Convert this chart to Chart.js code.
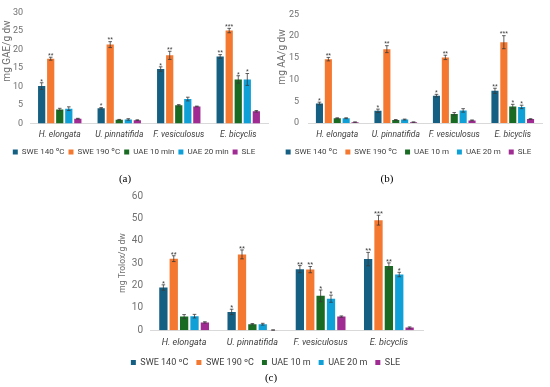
<!DOCTYPE html>
<html>
<head>
<meta charset="utf-8">
<script src="https://cdn.jsdelivr.net/npm/chart.js@4.4.1/dist/chart.umd.min.js"></script>
<style>
  html, body { margin: 0; padding: 0; background: #ffffff; }
  body { width: 550px; height: 387px; position: relative; overflow: hidden; }
  .box { position: absolute; }
  .lab { position: absolute; font-family: "Liberation Serif", serif; font-size: 11px; color: #000; transform: translateX(-50%); }
</style>
</head>
<body>
<div class="box" style="left:0px;top:0px;width:275px;height:166px;"><canvas id="ca"></canvas></div>
<div class="box" style="left:275px;top:0px;width:275px;height:166px;"><canvas id="cb"></canvas></div>
<div class="box" style="left:108px;top:183px;width:322px;height:194px;"><canvas id="cc"></canvas></div>
<div class="lab" style="left:125px;top:172px;">(a)</div>
<div class="lab" style="left:387px;top:172px;">(b)</div>
<div class="lab" style="left:271px;top:371px;">(c)</div>
<script>
// ---- categories and series names ----
const categories = ["H. elongata", "U. pinnatifida", "F. vesiculosus", "E. bicyclis"];
const seriesNamesA = ["SWE 140 ºC", "SWE 190 ºC", "UAE 10 min", "UAE 20 min", "SLE"];
const seriesNamesBC = ["SWE 140 ºC", "SWE 190 ºC", "UAE 10 m", "UAE 20 m", "SLE"];
const seriesColors = ["#156082", "#F4782F", "#196B24", "#0FA0D8", "#A02B93"];

// ---- (a) mg GAE/g dw ----
const tpcTicks = [0, 5, 10, 15, 20, 25, 30];
const tpcSWE140 = [10.1, 4.1, 14.7, 18.1];
const tpcSWE190 = [17.5, 21.3, 18.4, 25.1];
const tpcUAE10 = [3.8, 1.0, 4.9, 11.9];
const tpcUAE20 = [4.0, 1.1, 6.6, 11.9];
const tpcSLE = [1.3, 0.9, 4.6, 3.3];
const tpcSWE140Err = [0.9, 0.2, 0.6, 0.5];
const tpcSWE190Err = [0.4, 0.8, 1.1, 0.6];
const tpcUAE10Err = [0.3, 0.1, 0.2, 1.0];
const tpcUAE20Err = [0.5, 0.2, 0.5, 1.6];
const tpcSLEErr = [0.1, 0.1, 0.1, 0.2];
const tpcSWE140Sig = ["*", "*", "*", "**"];
const tpcSWE190Sig = ["**", "**", "**", "***"];
const tpcUAE10Sig = ["", "", "", "*"];
const tpcUAE20Sig = ["", "", "", "*"];
const tpcSLESig = ["", "", "", ""];

// ---- (b) mg AA/g dw ----
const aaTicks = [0, 5, 10, 15, 20, 25];
const aaSWE140 = [4.5, 2.8, 6.3, 7.4];
const aaSWE190 = [14.7, 17.0, 15.1, 18.6];
const aaUAE10 = [1.1, 0.7, 2.1, 3.8];
const aaUAE20 = [1.1, 0.8, 2.9, 3.7];
const aaSLE = [0.2, 0.2, 0.6, 0.9];
const aaSWE140Err = [0.3, 0.4, 0.3, 0.6];
const aaSWE190Err = [0.4, 0.8, 0.5, 1.5];
const aaUAE10Err = [0.1, 0.1, 0.3, 0.5];
const aaUAE20Err = [0.1, 0.1, 0.4, 0.4];
const aaSLEErr = [0.05, 0.05, 0.1, 0.1];
const aaSWE140Sig = ["*", "*", "*", "**"];
const aaSWE190Sig = ["**", "**", "**", "***"];
const aaUAE10Sig = ["", "", "", "*"];
const aaUAE20Sig = ["", "", "", "*"];
const aaSLESig = ["", "", "", ""];

// ---- (c) mg Trolox/g dw ----
const trTicks = [0, 10, 20, 30, 40, 50, 60];
const trSWE140 = [19.1, 8.2, 27.3, 31.8];
const trSWE190 = [32.0, 33.9, 27.1, 49.2];
const trUAE10 = [6.1, 2.7, 15.4, 28.7];
const trUAE20 = [6.3, 2.7, 14.1, 24.9];
const trSLE = [3.5, 0.1, 6.1, 1.2];
const trSWE140Err = [1.2, 1.2, 1.6, 3.0];
const trSWE190Err = [1.3, 2.0, 1.4, 2.2];
const trUAE10Err = [0.9, 0.3, 2.6, 1.4];
const trUAE20Err = [0.8, 0.4, 1.6, 1.0];
const trSLEErr = [0.3, 0.05, 0.3, 0.3];
const trSWE140Sig = ["*", "*", "**", "**"];
const trSWE190Sig = ["**", "**", "**", "***"];
const trUAE10Sig = ["", "", "*", "**"];
const trUAE20Sig = ["", "", "*", "*"];
const trSLESig = ["", "", "", ""];

const FONT = "Roboto, 'Liberation Sans', sans-serif";

const errorBarPlugin = {
  id: "errorBars",
  afterDatasetsDraw(chart) {
    const ctx = chart.ctx;
    const ys = chart.scales.y;
    const o = chart.options.plugins.errorBars;
    const starSize = o.starSize;
    chart.data.datasets.forEach((ds, i) => {
      const meta = chart.getDatasetMeta(i);
      meta.data.forEach((bar, j) => {
        const v = ds.data[j], e = ds.errors[j];
        const x = bar.x;
        const yT = ys.getPixelForValue(v + e);
        const yB = ys.getPixelForValue(Math.max(0, v - e));
        ctx.save();
        ctx.strokeStyle = "#3a3a3a";
        ctx.lineWidth = 0.8;
        ctx.beginPath();
        ctx.moveTo(x, yT); ctx.lineTo(x, yB);
        ctx.moveTo(x - 1.8, yT); ctx.lineTo(x + 1.8, yT);
        ctx.moveTo(x - 1.8, yB); ctx.lineTo(x + 1.8, yB);
        ctx.stroke();
        const s = ds.sig[j];
        if (s) {
          ctx.fillStyle = "#404040";
          ctx.font = starSize + "px 'Liberation Sans', sans-serif";
          ctx.textAlign = "center";
          ctx.textBaseline = "alphabetic";
          ctx.fillText(s, x, yT + starSize * 0.4 - 2);
        }
        ctx.restore();
      });
    });
  },
  afterDraw(chart) {
    const o = chart.options.plugins.errorBars;
    const ctx = chart.ctx;
    ctx.save();
    ctx.translate(o.titleX, o.titleY);
    ctx.rotate(-Math.PI / 2);
    ctx.fillStyle = "#6e6e6e";
    ctx.font = o.titleFont + "px " + FONT;
    ctx.textAlign = "center";
    ctx.textBaseline = "middle";
    ctx.fillText(o.title, 0, 0);
    ctx.restore();
  }
};

function makeDatasets(names, vals, errs, sigs) {
  return names.map((n, i) => ({
    label: n,
    data: vals[i],
    errors: errs[i],
    sig: sigs[i],
    backgroundColor: seriesColors[i],
    borderWidth: 0,
    categoryPercentage: 0.76,
    barPercentage: 0.8
  }));
}

function makeChart(id, cfg) {
  const tickVals = cfg.ticks;
  return new Chart(document.getElementById(id), {
    type: "bar",
    data: {
      labels: categories,
      datasets: makeDatasets(cfg.names, cfg.vals, cfg.errs, cfg.sigs)
    },
    plugins: [errorBarPlugin],
    options: {
      responsive: true,
      maintainAspectRatio: false,
      animation: false,
      layout: { padding: cfg.padding },
      plugins: {
        errorBars: { starSize: cfg.starSize, title: cfg.title, titleX: cfg.titleX, titleY: cfg.titleY, titleFont: cfg.titleFont },
        tooltip: { enabled: false },
        legend: {
          position: "bottom",
          labels: {
            boxWidth: cfg.box, boxHeight: cfg.box,
            padding: cfg.legendPad,
            color: "#404040",
            font: { family: FONT, size: cfg.legendFont }
          }
        }
      },
      scales: {
        x: {
          grid: { display: false, drawTicks: false },
          border: { display: true, color: "#d9d9d9", width: 1 },
          ticks: {
            color: "#404040", padding: cfg.xPad, maxRotation: 0, minRotation: 0, autoSkip: false,
            font: { family: FONT, size: cfg.catFont, style: "italic" }
          },
          afterFit: s => { s.height = cfg.xHeight; }
        },
        y: {
          min: tickVals[0], max: tickVals[tickVals.length - 1],
          afterBuildTicks: s => { s.ticks = tickVals.map(v => ({ value: v })); },
          grid: { display: false, drawTicks: false },
          border: { display: false },
          ticks: {
            color: "#707070", padding: cfg.yPad,
            font: { family: FONT, size: cfg.tickFont }
          },
          title: { display: false },
          afterFit: s => { s.width = cfg.yWidth; }
        }
      }
    }
  });
}

makeChart("ca", {
  names: seriesNamesA, ticks: tpcTicks, title: "mg GAE/g dw",
  vals: [tpcSWE140, tpcSWE190, tpcUAE10, tpcUAE20, tpcSLE],
  errs: [tpcSWE140Err, tpcSWE190Err, tpcUAE10Err, tpcUAE20Err, tpcSLEErr],
  sigs: [tpcSWE140Sig, tpcSWE190Sig, tpcUAE10Sig, tpcUAE20Sig, tpcSLESig],
  padding: { top: 7, right: 7, left: 0, bottom: 0 },
  yWidth: 30, yPad: 7, xHeight: 20.5, xPad: 6.4, box: 5, legendPad: 4, legendFont: 8,
  catFont: 8.5, tickFont: 9, titleFont: 10, titleX: 7, titleY: 51, starSize: 7
});
makeChart("cb", {
  names: seriesNamesBC, ticks: aaTicks, title: "mg AA/g dw",
  vals: [aaSWE140, aaSWE190, aaUAE10, aaUAE20, aaSLE],
  errs: [aaSWE140Err, aaSWE190Err, aaUAE10Err, aaUAE20Err, aaSLEErr],
  sigs: [aaSWE140Sig, aaSWE190Sig, aaUAE10Sig, aaUAE20Sig, aaSLESig],
  padding: { top: 10, right: 8, left: 0, bottom: 0 },
  yWidth: 33, yPad: 9, xHeight: 17, xPad: 6.4, box: 5, legendPad: 8, legendFont: 8,
  catFont: 8.5, tickFont: 9, titleFont: 10, titleX: 7, titleY: 57, starSize: 7
});
makeChart("cc", {
  names: seriesNamesBC, ticks: trTicks, title: "mg Trolox/g dw",
  vals: [trSWE140, trSWE190, trUAE10, trUAE20, trSLE],
  errs: [trSWE140Err, trSWE190Err, trUAE10Err, trUAE20Err, trSLEErr],
  sigs: [trSWE140Sig, trSWE190Sig, trUAE10Sig, trUAE20Sig, trSLESig],
  padding: { top: 10, right: 7, left: 0, bottom: 0 },
  yWidth: 42, yPad: 7, xHeight: 19.75, xPad: 6.6, box: 5, legendPad: 8, legendFont: 9,
  catFont: 9, tickFont: 10, titleFont: 8.5, titleX: 15, titleY: 80, starSize: 7.5
});
</script>
</body>
</html>
